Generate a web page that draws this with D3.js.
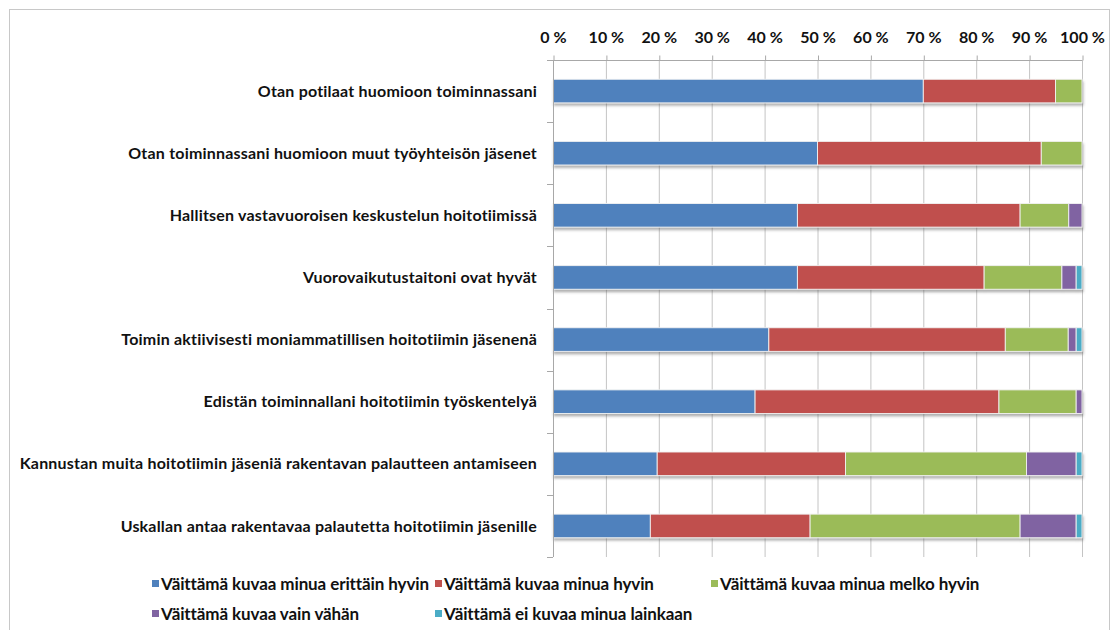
<!DOCTYPE html>
<html>
<head>
<meta charset="utf-8">
<script src="https://cdn.jsdelivr.net/npm/d3@7"></script>
<style>
  html, body { margin: 0; padding: 0; background: #fff; }
  svg { display: block; }
  text { font-family: Lato, "Open Sans", sans-serif; fill: #111; }
</style>
</head>
<body>
<svg id="chart" width="1119" height="630"></svg>
<script>
// Statements (top to bottom)
const categories = [
  "Otan potilaat huomioon toiminnassani",
  "Otan toiminnassani huomioon muut työyhteisön jäsenet",
  "Hallitsen vastavuoroisen keskustelun hoitotiimissä",
  "Vuorovaikutustaitoni ovat hyvät",
  "Toimin aktiivisesti moniammatillisen hoitotiimin jäsenenä",
  "Edistän toiminnallani hoitotiimin työskentelyä",
  "Kannustan muita hoitotiimin jäseniä rakentavan palautteen antamiseen",
  "Uskallan antaa rakentavaa palautetta hoitotiimin jäsenille"
];

// Answer options
const seriesNames = [
  "Väittämä kuvaa minua erittäin hyvin",
  "Väittämä kuvaa minua hyvin",
  "Väittämä kuvaa minua melko hyvin",
  "Väittämä kuvaa vain vähän",
  "Väittämä ei kuvaa minua lainkaan"
];

// Shares of respondents (%) per statement
const erittainHyvin = [70.0, 50.0, 46.2, 46.2, 40.8, 38.2, 19.7, 18.4];
const hyvin         = [25.0, 42.3, 42.1, 35.3, 44.7, 46.1, 35.6, 30.2];
const melkoHyvin    = [ 5.0,  7.7,  9.2, 14.7, 11.9, 14.6, 34.2, 39.7];
const vainVahan     = [ 0.0,  0.0,  2.5,  2.7,  1.5,  1.1,  9.4, 10.6];
const eiLainkaan    = [ 0.0,  0.0,  0.0,  1.1,  1.1,  0.0,  1.1,  1.1];

const tickValues = [0, 10, 20, 30, 40, 50, 60, 70, 80, 90, 100];

const colors = ["#4F81BD", "#C0504D", "#9BBB59", "#8064A2", "#4BACC6"];

const seriesValues = [erittainHyvin, hyvin, melkoHyvin, vainVahan, eiLainkaan];
const keys = seriesNames;
const table = categories.map((c, i) => {
  const row = { category: c };
  keys.forEach((k, j) => { row[k] = seriesValues[j][i]; });
  return row;
});

const svg = d3.select("#chart");

// outer frame
svg.append("rect")
  .attr("x", 9.5).attr("y", 9.5)
  .attr("width", 1100).attr("height", 640)
  .attr("fill", "none").attr("stroke", "#c8c8c8");

const plotLeft = 553, plotRight = 1082, plotTop = 60, plotBottom = 557;

const x = d3.scaleLinear().domain([0, 100]).range([plotLeft, plotRight]);
const y = d3.scaleBand().domain(categories).range([plotTop, plotBottom])
  .paddingInner(0.62).paddingOuter(0.31);

const defs = svg.append("defs");
const f = defs.append("filter").attr("id", "shadow")
  .attr("x", "-5%").attr("y", "-30%").attr("width", "110%").attr("height", "170%");
f.append("feDropShadow").attr("dx", 1).attr("dy", 2.5).attr("stdDeviation", 1.2)
  .attr("flood-color", "#555").attr("flood-opacity", 0.45);

// vertical gridlines
svg.append("g").selectAll("line").data(tickValues).join("line")
  .attr("x1", d => x(d) + 0.5).attr("x2", d => x(d) + 0.5)
  .attr("y1", plotTop).attr("y2", plotBottom)
  .attr("stroke", "#c4c4c4").attr("stroke-width", 1);

// top axis
const xAxis = svg.append("g")
  .attr("transform", `translate(0,${plotTop + 0.5})`)
  .call(d3.axisTop(x).tickValues(tickValues).tickSize(5).tickPadding(13)
    .tickFormat(d => d + " %"));
xAxis.select(".domain").attr("stroke", "#a8a8a8").attr("d", `M${plotLeft},0H${plotRight}`);
xAxis.selectAll(".tick line").attr("stroke", "#a8a8a8").attr("transform", "translate(0.5,0)");
xAxis.selectAll(".tick text")
  .style("font-family", "Lato, sans-serif")
  .style("font-size", "16px").style("font-weight", "700").attr("fill", "#111");

// stacked bars
const stacked = d3.stack().keys(keys)(table);
const rows = svg.append("g");
const rowG = rows.selectAll("g").data(categories).join("g").attr("filter", "url(#shadow)");
rowG.each(function(cat, i) {
  const g = d3.select(this);
  stacked.forEach((layer, j) => {
    const seg = layer[i];
    if (seg[1] - seg[0] <= 0) return;
    g.append("rect")
      .attr("x", x(seg[0])).attr("y", y(cat))
      .attr("width", x(seg[1]) - x(seg[0]))
      .attr("height", y.bandwidth())
      .attr("fill", colors[j])
      .attr("stroke", "#f2f2f2").attr("stroke-width", 0.9);
  });
});

// left axis with ticks at category boundaries
const yAxis = svg.append("g");
yAxis.append("line")
  .attr("x1", plotLeft + 0.5).attr("x2", plotLeft + 0.5)
  .attr("y1", plotTop).attr("y2", plotBottom)
  .attr("stroke", "#a8a8a8");
const bounds = d3.range(categories.length + 1).map(i => plotTop + i * y.step());
yAxis.selectAll("line.tk").data(bounds).join("line").attr("class", "tk")
  .attr("x1", plotLeft - 6).attr("x2", plotLeft)
  .attr("y1", d => Math.round(d) + 0.5).attr("y2", d => Math.round(d) + 0.5)
  .attr("stroke", "#a8a8a8");

// category labels
svg.append("g").selectAll("text").data(categories).join("text")
  .attr("x", 537)
  .attr("y", d => y(d) + y.bandwidth() / 2)
  .attr("dy", "0.35em")
  .attr("text-anchor", "end")
  .style("font-size", "16px").style("font-weight", "700")
  .style("letter-spacing", "0.2px")
  .text(d => d);

// legend
const legendPos = [[152, 584], [435, 584], [711, 584], [152, 614], [435, 614]];
const legend = svg.append("g");
seriesNames.forEach((name, i) => {
  const [lx, ly] = legendPos[i];
  legend.append("rect")
    .attr("x", lx).attr("y", ly - 4).attr("width", 7).attr("height", 7)
    .attr("fill", colors[i]);
  legend.append("text")
    .attr("x", lx + 9).attr("y", ly).attr("dy", "0.35em")
    .style("font-size", "17px").style("font-weight", "700")
    .style("letter-spacing", "-0.1px")
    .text(name);
});
</script>
</body>
</html>
